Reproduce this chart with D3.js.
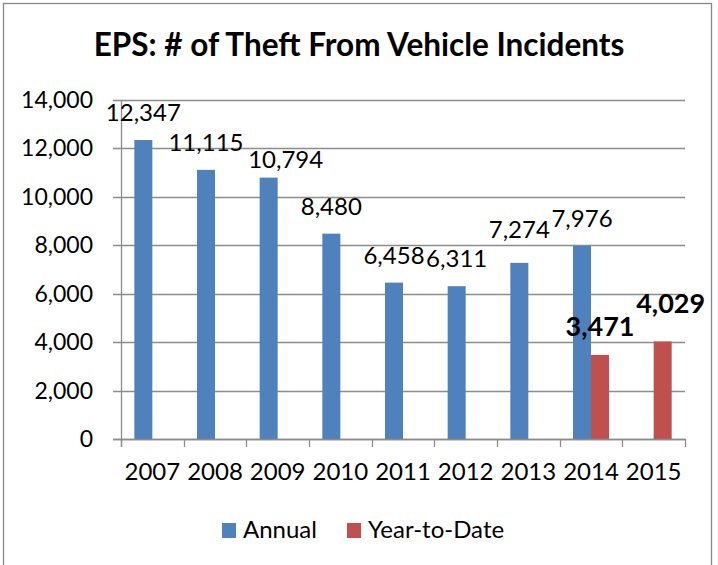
<!DOCTYPE html>
<html>
<head>
<meta charset="utf-8">
<script src="https://cdn.jsdelivr.net/npm/d3@7"></script>
<style>
  html, body { margin: 0; padding: 0; background: #fff; }
  svg { display: block; }
  text { font-family: Lato, "Open Sans", sans-serif; fill: #000; }
</style>
</head>
<body>
<svg id="chart" width="718" height="565"></svg>
<script>
// Edmonton theft-from-vehicle counts
const years = ["2007", "2008", "2009", "2010", "2011", "2012", "2013", "2014", "2015"];
const annual = [12347, 11115, 10794, 8480, 6458, 6311, 7274, 7976, null];
const yearToDate = [null, null, null, null, null, null, null, 3471, 4029];
const yTicks = [0, 2000, 4000, 6000, 8000, 10000, 12000, 14000];
const seriesNames = ["Annual", "Year-to-Date"];

const colors = { "Annual": "#4F81BD", "Year-to-Date": "#C0504D" };

// hand-placed label adjustments (dx, dy) for crowded labels
const labelNudge = {
  "Annual|2009": [17, 9],
  "Annual|2013": [0, -6],
  "Year-to-Date|2015": [8, -9]
};

const svg = d3.select("#chart");

// outer chart frame
svg.append("rect")
  .attr("x", 3.5).attr("y", 3.5)
  .attr("width", 708).attr("height", 600)
  .attr("fill", "none").attr("stroke", "#868686").attr("stroke-width", 1.3);

// title
svg.append("text")
  .attr("x", 359).attr("y", 56)
  .attr("text-anchor", "middle")
  .attr("font-weight", "bold")
  .attr("font-size", 31.5)
  .text("EPS: # of Theft From Vehicle Incidents");

const plot = { left: 121, right: 685, top: 100, bottom: 439 };

const x = d3.scaleBand().domain(years)
  .range([plot.left, plot.right])
  .paddingInner(0.4255).paddingOuter(0.4255 / 2);
const xs = d3.scaleBand().domain(seriesNames).range([0, x.bandwidth()]);
const y = d3.scaleLinear().domain([0, 14000]).range([plot.bottom, plot.top]);

// horizontal gridlines with short ticks to the left of the axis
svg.append("g").selectAll("line").data(yTicks).join("line")
  .attr("x1", plot.left - 8).attr("x2", plot.right)
  .attr("y1", d => Math.round(y(d)) + 0.5).attr("y2", d => Math.round(y(d)) + 0.5)
  .attr("stroke", "#8c8c8c").attr("stroke-width", 1.3);

// y tick labels
const fmt = d3.format(",");
svg.append("g").selectAll("text").data(yTicks).join("text")
  .attr("x", 93).attr("y", d => y(d))
  .attr("dy", "0.35em")
  .attr("text-anchor", "end")
  .attr("font-size", 23)
  .text(d => fmt(d));

// vertical axis line
svg.append("line")
  .attr("x1", plot.left + 0.5).attr("x2", plot.left + 0.5)
  .attr("y1", plot.top).attr("y2", plot.bottom + 8)
  .attr("stroke", "#8c8c8c").attr("stroke-width", 1.3);

// category boundary ticks on the x axis
const step = x.step();
const bounds = d3.range(years.length + 1).map(i => plot.left + i * step);
svg.append("g").selectAll("line").data(bounds).join("line")
  .attr("x1", d => Math.round(d) + 0.5).attr("x2", d => Math.round(d) + 0.5)
  .attr("y1", plot.bottom).attr("y2", plot.bottom + 8)
  .attr("stroke", "#8c8c8c").attr("stroke-width", 1.3);

// bars
const rows = [];
years.forEach((yr, i) => {
  if (annual[i] != null) rows.push({ series: "Annual", year: yr, value: annual[i] });
  if (yearToDate[i] != null) rows.push({ series: "Year-to-Date", year: yr, value: yearToDate[i] });
});

svg.append("g").selectAll("rect").data(rows).join("rect")
  .attr("x", d => x(d.year) + xs(d.series))
  .attr("width", xs.bandwidth())
  .attr("y", d => y(d.value))
  .attr("height", d => y(0) - y(d.value))
  .attr("fill", d => colors[d.series]);

// x axis baseline drawn over the bars
svg.append("line")
  .attr("x1", plot.left - 8).attr("x2", plot.right + 1)
  .attr("y1", plot.bottom + 0.5).attr("y2", plot.bottom + 0.5)
  .attr("stroke", "#8c8c8c").attr("stroke-width", 1.3);

// value labels
svg.append("g").selectAll("text").data(rows).join("text")
  .attr("x", d => x(d.year) + xs(d.series) + xs.bandwidth() / 2 + (labelNudge[d.series + "|" + d.year] || [0, 0])[0])
  .attr("y", d => y(d.value) - 19 + (labelNudge[d.series + "|" + d.year] || [0, 0])[1])
  .attr("text-anchor", "middle")
  .attr("font-size", d => d.series === "Annual" ? 24 : 27)
  .attr("font-weight", d => d.series === "Annual" ? "normal" : "bold")
  .text(d => fmt(d.value));

// year labels
svg.append("g").selectAll("text").data(years).join("text")
  .attr("x", d => x(d) + x.bandwidth() / 2)
  .attr("y", 480)
  .attr("text-anchor", "middle")
  .attr("font-size", 24)
  .text(d => d);

// legend
const legendPos = { "Annual": 222, "Year-to-Date": 347 };
const lg = svg.append("g").selectAll("g").data(seriesNames).join("g")
  .attr("transform", d => `translate(${legendPos[d]},523)`);
lg.append("rect").attr("width", 14).attr("height", 15).attr("fill", d => colors[d]);
lg.append("text").attr("x", 21).attr("y", 14.5).attr("font-size", 24).text(d => d);
</script>
</body>
</html>
